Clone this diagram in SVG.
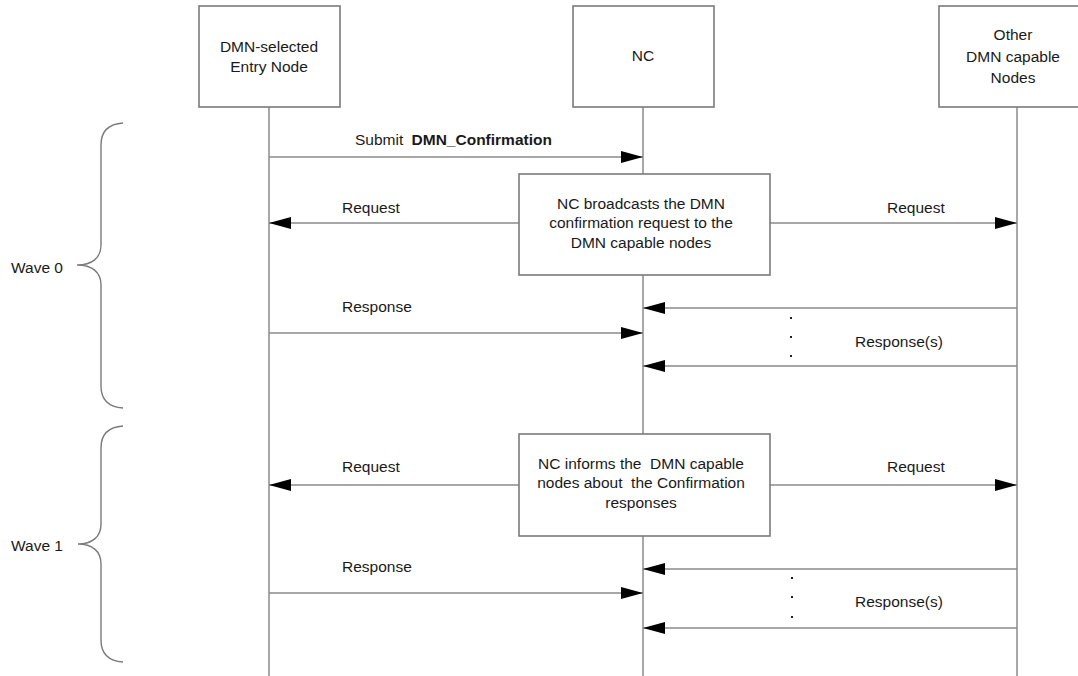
<svg xmlns="http://www.w3.org/2000/svg" width="1078" height="676" viewBox="0 0 1078 676">
<defs>
<marker id="ah" markerUnits="userSpaceOnUse" markerWidth="22" markerHeight="12" refX="22" refY="6" orient="auto">
<path d="M0,0 L22,6 L0,12 Z" fill="#000"/>
</marker>
<style>
.box{fill:#fff;stroke:#7a7a7a;stroke-width:1.6}
.life{stroke:#6e6e6e;stroke-width:1.2;fill:none}
.msg{stroke:#8a8a8a;stroke-width:1.6;fill:none;marker-end:url(#ah)}
.brace{stroke:#7a7a7a;stroke-width:1.4;fill:none}
text{font-family:"Liberation Sans",Arial,sans-serif;font-size:15.5px;fill:#1a1a1a}
.c{text-anchor:middle}
.dot{fill:#222}
</style>
</defs>
<rect width="1078" height="676" fill="#fff"/>

<g id="lifelines">
<line class="life" x1="269" y1="107" x2="269" y2="676"/>
<line class="life" x1="643" y1="107" x2="643" y2="676"/>
<line class="life" x1="1017" y1="107" x2="1017" y2="676"/>
</g>

<g id="node-entry">
<rect class="box" x="199" y="6" width="141" height="101"/>
<text class="c" x="269" y="52">DMN-selected</text>
<text class="c" x="269" y="72">Entry Node</text>
</g>
<g id="node-nc">
<rect class="box" x="573" y="6" width="141" height="101"/>
<text class="c" x="643" y="61">NC</text>
</g>
<g id="node-other">
<rect class="box" x="939" y="6" width="160" height="101"/>
<text class="c" x="1013" y="40">Other</text>
<text class="c" x="1013" y="62">DMN capable</text>
<text class="c" x="1013" y="83">Nodes</text>
</g>

<g id="connectors">
<line class="msg" x1="269" y1="157" x2="643" y2="157"/>
<line class="msg" x1="519" y1="223" x2="269" y2="223"/>
<line class="msg" x1="770" y1="223" x2="1017" y2="223"/>
<line class="msg" x1="1017" y1="308" x2="643" y2="308"/>
<line class="msg" x1="269" y1="333" x2="643" y2="333"/>
<line class="msg" x1="1017" y1="366" x2="643" y2="366"/>
<line class="msg" x1="519" y1="485" x2="269" y2="485"/>
<line class="msg" x1="770" y1="485" x2="1017" y2="485"/>
<line class="msg" x1="1017" y1="569" x2="643" y2="569"/>
<line class="msg" x1="269" y1="593" x2="643" y2="593"/>
<line class="msg" x1="1017" y1="628" x2="643" y2="628"/>
</g>

<g id="labels">
<text x="355" y="145">Submit <tspan font-weight="bold" dx="4">DMN_Confirmation</tspan></text>
<text x="342" y="213">Request</text>
<text x="887" y="213">Request</text>
<text x="342" y="312">Response</text>
<text x="855" y="347">Response(s)</text>
<text x="342" y="472">Request</text>
<text x="887" y="472">Request</text>
<text x="342" y="572">Response</text>
<text x="855" y="607">Response(s)</text>
</g>

<g id="dots">
<rect class="dot" x="790" y="317" width="2" height="2"/>
<rect class="dot" x="790" y="336" width="2" height="2"/>
<rect class="dot" x="790" y="355" width="2" height="2"/>
<rect class="dot" x="791" y="577" width="2" height="2"/>
<rect class="dot" x="791" y="596" width="2" height="2"/>
<rect class="dot" x="791" y="616" width="2" height="2"/>
</g>

<g id="node-broadcast">
<rect class="box" x="519" y="174" width="251" height="101"/>
<text class="c" x="641" y="209">NC broadcasts the DMN</text>
<text class="c" x="641" y="228">confirmation request to the</text>
<text class="c" x="641" y="248">DMN capable nodes</text>
</g>
<g id="node-inform">
<rect class="box" x="519" y="434" width="251" height="102"/>
<text class="c" x="641" y="469" xml:space="preserve">NC informs the  DMN capable</text>
<text class="c" x="641" y="488" xml:space="preserve">nodes about  the Confirmation</text>
<text class="c" x="641" y="508">responses</text>
</g>

<g id="wave0">
<path class="brace" d="M123,123 C108,124 101,132 101,145 L101,245 C101,258 92,265 77,265 C92,265 101,272 101,285 L101,386 C101,399 108,407 123,408"/>
<text x="63" y="273" text-anchor="end">Wave 0</text>
</g>
<g id="wave1">
<path class="brace" d="M123,426 C108,427 101,435 101,448 L101,524 C101,537 92,544 78,544 C92,544 101,551 101,564 L101,640 C101,653 108,661 123,662"/>
<text x="63" y="551" text-anchor="end">Wave 1</text>
</g>
</svg>
